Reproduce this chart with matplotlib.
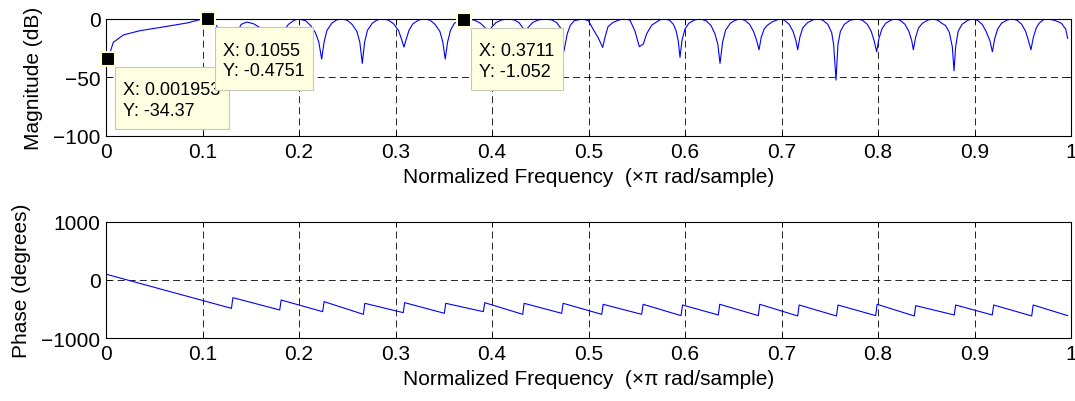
import matplotlib
matplotlib.use("Agg")
import matplotlib.pyplot as plt
from matplotlib.offsetbox import TextArea, VPacker, DrawingArea, AnnotationBbox

plt.rcParams['font.family'] = ['Liberation Sans', 'DejaVu Sans']
plt.rcParams['lines.scale_dashes'] = False

# ---------------- data ----------------
mag_freq = [
    0.00195, 0.0076, 0.018, 0.035, 0.063, 0.084, 0.097, 0.1055,
    0.111, 0.116, 0.121, 0.130, 0.136, 0.140, 0.146, 0.153, 0.160, 0.168, 0.177,
    0.183, 0.189, 0.195, 0.200,
    0.207, 0.212, 0.217, 0.2205, 0.2235, 0.226, 0.229, 0.234, 0.239, 0.244,
    0.250, 0.255, 0.260, 0.263, 0.2656, 0.268, 0.271, 0.276, 0.281, 0.287,
    0.293, 0.298, 0.303, 0.306, 0.3088, 0.311, 0.314, 0.318, 0.324, 0.330,
    0.336, 0.341, 0.346, 0.349, 0.3515, 0.354, 0.357, 0.361, 0.3711,
    0.376, 0.382, 0.388, 0.393, 0.396, 0.399, 0.404, 0.410, 0.416,
    0.423, 0.428, 0.432, 0.434, 0.437, 0.442, 0.448, 0.455,
    0.462, 0.467, 0.471, 0.4745, 0.478, 0.481, 0.485, 0.494,
    0.500, 0.5047, 0.5098, 0.5147, 0.5171, 0.5202, 0.5254, 0.5326, 0.538,
    0.543, 0.548, 0.5527, 0.5568, 0.5603, 0.5655, 0.574, 0.579,
    0.584, 0.588, 0.591, 0.593, 0.5948, 0.597, 0.600, 0.604, 0.610, 0.616,
    0.622, 0.627, 0.631, 0.634, 0.6363, 0.639, 0.642, 0.647, 0.652, 0.657,
    0.662, 0.667, 0.671, 0.674, 0.6767, 0.679, 0.682, 0.685, 0.690, 0.698,
    0.703, 0.708, 0.712, 0.715, 0.7168, 0.719, 0.722, 0.727, 0.733, 0.738,
    0.743, 0.748, 0.752, 0.754, 0.7565, 0.7585, 0.761, 0.765, 0.771, 0.778,
    0.784, 0.789, 0.793, 0.796, 0.7986, 0.801, 0.804, 0.808, 0.814, 0.818,
    0.823, 0.828, 0.832, 0.835, 0.8366, 0.839, 0.842, 0.846, 0.852, 0.857,
    0.862, 0.866, 0.870, 0.874, 0.877, 0.8788, 0.8805, 0.883, 0.887, 0.893, 0.898,
    0.903, 0.908, 0.912, 0.916, 0.9185, 0.921, 0.924, 0.928, 0.934, 0.939,
    0.944, 0.949, 0.953, 0.956, 0.9585, 0.961, 0.964, 0.967, 0.971, 0.975,
    0.983, 0.990, 0.9945, 0.9965,
]
mag_db = [
    -34.37, -20.3, -14.0, -10.4, -6.7, -3.8, -1.0, -0.4751,
    -2.5, -8.0, -15.0, -30.0, -12.0, -5.0, -3.0, -4.5, -8.0, -14.0, -30.0,
    -12.0, -5.0, -1.5, -0.3,
    -2.0, -6.0, -12.0, -20.0, -34.5, -20.0, -10.0, -4.0, -1.2, -0.3,
    -1.5, -5.0, -11.0, -20.0, -38.2, -20.0, -10.0, -4.0, -1.2, -0.3,
    -1.5, -4.5, -10.0, -17.0, -24.3, -18.0, -10.0, -4.5, -1.3, -0.3,
    -1.5, -5.0, -11.0, -20.0, -34.5, -20.0, -10.0, -4.0, -1.052,
    -0.4, -1.5, -4.0, -8.0, -25.0, -8.0, -3.5, -1.2, -0.4,
    -1.2, -3.5, -8.0, -25.0, -8.0, -3.5, -1.2, -0.4,
    -1.2, -3.5, -8.0, -28.0, -13.0, -6.0, -2.0, -0.2,
    -2.0, -9.0, -16.0, -24.6, -16.0, -7.0, -3.3, -1.0, -0.3,
    -1.5, -10.4, -24.0, -21.7, -12.9, -5.7, -1.1, -0.3,
    -1.5, -5.0, -11.0, -19.0, -33.1, -18.0, -9.0, -4.0, -1.2, -0.3,
    -2.0, -6.0, -13.0, -22.0, -38.2, -20.0, -10.0, -4.0, -1.5, -0.3,
    -1.5, -5.0, -11.0, -18.0, -26.6, -16.0, -9.0, -6.0, -3.0, -0.3,
    -1.5, -5.0, -11.0, -19.0, -26.6, -16.0, -8.0, -3.5, -1.0, -0.3,
    -1.5, -5.0, -12.0, -22.0, -52.4, -22.0, -11.0, -5.0, -1.5, -0.3,
    -1.5, -5.0, -11.0, -19.0, -28.3, -17.0, -9.0, -4.0, -1.2, -0.3,
    -1.5, -5.0, -11.0, -19.0, -26.6, -16.0, -8.0, -4.0, -1.2, -0.3,
    -1.5, -4.0, -6.0, -12.0, -24.0, -44.5, -24.0, -11.0, -5.0, -1.5, -0.3,
    -1.5, -5.0, -11.0, -19.0, -28.3, -17.0, -9.0, -4.0, -1.2, -0.3,
    -1.5, -5.0, -11.0, -19.0, -26.6, -16.0, -8.0, -4.0, -1.2, -0.3,
    -1.5, -4.0, -9.0, -16.9,
]

phase_freq = [
    0.0007, 0.1300, 0.1315, 0.1800, 0.1815, 0.2245, 0.2260,
    0.2667, 0.2682, 0.3080, 0.3095, 0.3506, 0.3521, 0.3910, 0.3925,
    0.4318, 0.4333, 0.4722, 0.4737, 0.5137, 0.5152, 0.5551, 0.5566,
    0.5959, 0.5974, 0.6345, 0.6360, 0.6760, 0.6775, 0.7168, 0.7183,
    0.7570, 0.7585, 0.7976, 0.7991, 0.8376, 0.8391, 0.8790, 0.8805,
    0.9184, 0.9199, 0.9593, 0.9608, 0.9965,
]
phase_deg = [
    97, -486, -303, -514, -343, -543, -371,
    -589, -400, -560, -389, -571, -400, -543, -389,
    -589, -400, -571, -400, -589, -417, -589, -417,
    -611, -429, -600, -417, -611, -417, -617, -429,
    -617, -429, -611, -417, -617, -440, -600, -429,
    -600, -429, -617, -429, -611,
]

tip_x = [0.001953, 0.1055, 0.3711]
tip_y = [-34.37, -0.4751, -1.052]
tip_labels = ["X: 0.001953\nY: -34.37", "X: 0.1055\nY: -0.4751", "X: 0.3711\nY: -1.052"]

xticks = [0, 0.1, 0.2, 0.3, 0.4, 0.5, 0.6, 0.7, 0.8, 0.9, 1]
xticklabels = ["0", "0.1", "0.2", "0.3", "0.4", "0.5", "0.6", "0.7", "0.8", "0.9", "1"]
mag_ticks = [-100, -50, 0]
phase_ticks = [-1000, 0, 1000]
xlabel_text = "Normalized Frequency  (×π rad/sample)"

# ---------------- figure ----------------
W, H = 1075, 402
fig = plt.figure(figsize=(W / 100, H / 100), dpi=100)
fig.patch.set_facecolor('white')

ax1 = fig.add_axes([106 / W, 1 - 137 / H, 965 / W, 117.5 / H])
ax2 = fig.add_axes([106 / W, 1 - 339.3 / H, 965 / W, 116.6 / H])

FS = 15
for ax in (ax1, ax2):
    ax.set_xlim(0, 1)
    ax.set_xticks(xticks)
    ax.set_xticklabels(xticklabels)
    ax.tick_params(direction='in', top=True, right=True, length=3.5, width=0.6,
                   labelsize=FS, pad=4)
    ax.grid(True, color='k', linestyle=(0, (5, 3)), linewidth=0.6)
    for s in ax.spines.values():
        s.set_linewidth(0.8)
        s.set_color('k')
    ax.set_xlabel(xlabel_text, fontsize=FS, labelpad=4.5)

ax1.plot(mag_freq, mag_db, color='#0000ff', linewidth=0.8)
ax1.set_ylim(-100, 0)
ax1.set_yticks(mag_ticks)
ax1.set_ylabel("Magnitude (dB)", fontsize=FS)
ax1.yaxis.set_label_coords(-0.065, 0.5)

ax2.plot(phase_freq, phase_deg, color='#0000ff', linewidth=0.8)
ax2.set_ylim(-1000, 1000)
ax2.set_yticks(phase_ticks)
ax2.set_ylabel("Phase (degrees)", fontsize=FS)
ax2.yaxis.set_label_coords(-0.078, 0.5)

# data tips
for i, (tx, ty, lab) in enumerate(zip(tip_x, tip_y, tip_labels)):
    ta = TextArea(lab, textprops=dict(fontsize=13, linespacing=1.26, color='k'))
    packed = VPacker(children=[DrawingArea(1, 4.5), ta, DrawingArea(1, 1.7)],
                     align='left', pad=0, sep=0)
    ab = AnnotationBbox(packed, (tx, ty), xybox=(11.0, -11.7), xycoords='data',
                        boxcoords='offset points', box_alignment=(0, 1),
                        pad=0.6, fontsize=10,
                        bboxprops=dict(facecolor='#ffffe1', edgecolor='#c8c8b4',
                                       linewidth=0.8),
                        annotation_clip=False, zorder=5 + i)
    ax1.add_artist(ab)
ax1.plot(tip_x, tip_y, linestyle='none', marker='s', markersize=9.5,
         markerfacecolor='k', markeredgecolor='#ffffd2', markeredgewidth=1.5,
         clip_on=False, zorder=20)

fig.savefig("out.png", dpi=100)
